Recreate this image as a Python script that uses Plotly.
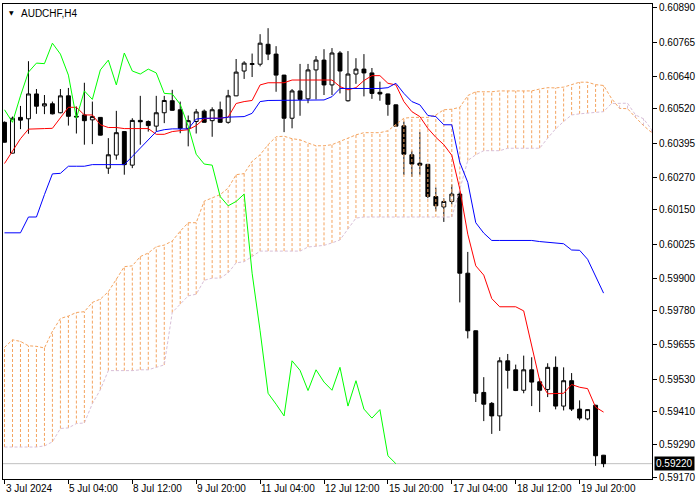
import plotly.graph_objects as go

# ---------------- data (AUDCHF H4) ----------------
bar_index = list(range(76))

open_ = [0.60471, 0.60358, 0.60489, 0.60484, 0.60575, 0.60531, 0.60539, 0.60506, 0.60568, 0.60493,
         0.60498, 0.60480, 0.60489, 0.60303, 0.60351, 0.60437, 0.60314, 0.60478, 0.60474, 0.60457,
         0.60506, 0.60550, 0.60517, 0.60449, 0.60474, 0.60512, 0.60477, 0.60517, 0.60471, 0.60568,
         0.60659, 0.60683, 0.60684, 0.60757, 0.60721, 0.60644, 0.60486, 0.60586, 0.60557, 0.60663,
         0.60699, 0.60608, 0.60725, 0.60550, 0.60648, 0.60666, 0.60652, 0.60581, 0.60575, 0.60535,
         0.60458, 0.60352, 0.60321, 0.60317, 0.60199, 0.60161, 0.60181, 0.60208, 0.59918, 0.59707,
         0.59481, 0.59441, 0.59395, 0.59597, 0.59564, 0.59489, 0.59564, 0.59520, 0.59492, 0.59573,
         0.59431, 0.59524, 0.59420, 0.59384, 0.59434, 0.59251]

high = [0.60474, 0.60492, 0.60531, 0.60695, 0.60593, 0.60571, 0.60547, 0.60593, 0.60597, 0.60529,
        0.60616, 0.60547, 0.60490, 0.60413, 0.60513, 0.60438, 0.60486, 0.60568, 0.60478, 0.60568,
        0.60568, 0.60590, 0.60547, 0.60496, 0.60520, 0.60518, 0.60526, 0.60547, 0.60590, 0.60703,
        0.60695, 0.60723, 0.60794, 0.60816, 0.60750, 0.60645, 0.60593, 0.60685, 0.60685, 0.60714,
        0.60739, 0.60743, 0.60732, 0.60732, 0.60706, 0.60721, 0.60670, 0.60620, 0.60576, 0.60536,
        0.60474, 0.60367, 0.60435, 0.60318, 0.60232, 0.60192, 0.60243, 0.60218, 0.59996, 0.59708,
        0.59537, 0.59446, 0.59610, 0.59622, 0.59583, 0.59616, 0.59610, 0.59532, 0.59588, 0.59613,
        0.59573, 0.59552, 0.59452, 0.59419, 0.59436, 0.59252]

low = [0.60397, 0.60357, 0.60446, 0.60429, 0.60502, 0.60501, 0.60500, 0.60504, 0.60459, 0.60430,
       0.60389, 0.60391, 0.60423, 0.60282, 0.60334, 0.60279, 0.60303, 0.60389, 0.60437, 0.60437,
       0.60468, 0.60514, 0.60431, 0.60383, 0.60430, 0.60470, 0.60418, 0.60470, 0.60466, 0.60567,
       0.60630, 0.60637, 0.60676, 0.60699, 0.60583, 0.60435, 0.60449, 0.60495, 0.60541, 0.60555,
       0.60571, 0.60571, 0.60577, 0.60547, 0.60612, 0.60566, 0.60557, 0.60550, 0.60495, 0.60456,
       0.60278, 0.60271, 0.60278, 0.60193, 0.60145, 0.60106, 0.60170, 0.59811, 0.59679, 0.59446,
       0.59376, 0.59329, 0.59340, 0.59495, 0.59486, 0.59478, 0.59431, 0.59409, 0.59464, 0.59419,
       0.59415, 0.59413, 0.59379, 0.59379, 0.59212, 0.59207]

close = [0.60398, 0.60486, 0.60479, 0.60575, 0.60530, 0.60539, 0.60502, 0.60568, 0.60493, 0.60491,
         0.60477, 0.60492, 0.60424, 0.60352, 0.60433, 0.60316, 0.60478, 0.60473, 0.60459, 0.60506,
         0.60551, 0.60515, 0.60449, 0.60477, 0.60509, 0.60471, 0.60517, 0.60471, 0.60568, 0.60655,
         0.60688, 0.60686, 0.60761, 0.60721, 0.60644, 0.60486, 0.60586, 0.60555, 0.60663, 0.60699,
         0.60608, 0.60725, 0.60659, 0.60648, 0.60666, 0.60652, 0.60577, 0.60575, 0.60537, 0.60457,
         0.60354, 0.60318, 0.60314, 0.60199, 0.60165, 0.60181, 0.60208, 0.59918, 0.59707, 0.59478,
         0.59438, 0.59395, 0.59597, 0.59562, 0.59488, 0.59564, 0.59519, 0.59489, 0.59573, 0.59431,
         0.59524, 0.59420, 0.59387, 0.59418, 0.59249, 0.59220]

tenkan = [0.60320, 0.60364, 0.60411, 0.60446, 0.60448, 0.60448, 0.60449, 0.60486, 0.60526, 0.60526,
          0.60498, 0.60498, 0.60462, 0.60452, 0.60452, 0.60448, 0.60448, 0.60448, 0.60448, 0.60427,
          0.60427, 0.60437, 0.60440, 0.60444, 0.60459, 0.60484, 0.60486, 0.60486, 0.60490, 0.60540,
          0.60547, 0.60551, 0.60608, 0.60616, 0.60616, 0.60616, 0.60626, 0.60626, 0.60626, 0.60626,
          0.60626, 0.60626, 0.60602, 0.60590, 0.60598, 0.60624, 0.60642, 0.60642, 0.60614, 0.60608,
          0.60547, 0.60510, 0.60492, 0.60449, 0.60416, 0.60389, 0.60350, 0.60226, 0.60061, 0.59945,
          0.59911, 0.59825, 0.59795, 0.59795, 0.59795, 0.59780, 0.59653, 0.59525, 0.59476, 0.59476,
          0.59478, 0.59510, 0.59500, 0.59495, 0.59427, 0.59409]

kijun = [0.60066, 0.60066, 0.60066, 0.60124, 0.60124, 0.60206, 0.60282, 0.60284, 0.60310, 0.60310,
         0.60310, 0.60316, 0.60316, 0.60316, 0.60316, 0.60316, 0.60346, 0.60376, 0.60407, 0.60437,
         0.60444, 0.60447, 0.60447, 0.60447, 0.60483, 0.60486, 0.60486, 0.60486, 0.60490, 0.60491,
         0.60492, 0.60504, 0.60547, 0.60551, 0.60551, 0.60551, 0.60551, 0.60551, 0.60551, 0.60551,
         0.60553, 0.60565, 0.60595, 0.60595, 0.60595, 0.60595, 0.60595, 0.60595, 0.60598, 0.60614,
         0.60577, 0.60547, 0.60535, 0.60496, 0.60492, 0.60462, 0.60462, 0.60324, 0.60251, 0.60103,
         0.60065, 0.60038, 0.60038, 0.60038, 0.60038, 0.60038, 0.60038, 0.60034, 0.60032, 0.60030,
         0.60026, 0.60003, 0.60002, 0.59969, 0.59905, 0.59845]

chikou = [0.60517, 0.60471, 0.60568, 0.60655, 0.60688, 0.60686, 0.60761, 0.60721, 0.60644, 0.60486,
          0.60586, 0.60555, 0.60663, 0.60699, 0.60608, 0.60725, 0.60659, 0.60648, 0.60666, 0.60652,
          0.60577, 0.60575, 0.60537, 0.60457, 0.60354, 0.60318, 0.60314, 0.60199, 0.60165, 0.60181,
          0.60208, 0.59918, 0.59707, 0.59478, 0.59438, 0.59395, 0.59597, 0.59562, 0.59488, 0.59564,
          0.59519, 0.59489, 0.59573, 0.59431, 0.59524, 0.59420, 0.59387, 0.59418, 0.59249, 0.59220]

cloud_index = list(range(82))

senkou_a = [0.59646, 0.59674, 0.59668, 0.59652, 0.59650, 0.59644, 0.59705, 0.59752, 0.59761, 0.59774,
            0.59777, 0.59811, 0.59823, 0.59850, 0.59896, 0.59942, 0.59945, 0.59979, 0.59992, 0.60015,
            0.60021, 0.60036, 0.60072, 0.60103, 0.60103, 0.60182, 0.60194, 0.60206, 0.60230, 0.60279,
            0.60283, 0.60328, 0.60352, 0.60389, 0.60418, 0.60420, 0.60411, 0.60407, 0.60395, 0.60385,
            0.60385, 0.60389, 0.60401, 0.60413, 0.60425, 0.60433, 0.60433, 0.60433, 0.60440, 0.60462,
            0.60486, 0.60489, 0.60489, 0.60489, 0.60498, 0.60517, 0.60519, 0.60526, 0.60569, 0.60583,
            0.60583, 0.60583, 0.60586, 0.60586, 0.60586, 0.60586, 0.60586, 0.60593, 0.60598, 0.60597,
            0.60600, 0.60609, 0.60618, 0.60618, 0.60609, 0.60606, 0.60558, 0.60522, 0.60521, 0.60489,
            0.60459, 0.60434]

senkou_b = [0.59281, 0.59281, 0.59281, 0.59281, 0.59281, 0.59285, 0.59300, 0.59349, 0.59351, 0.59367,
            0.59369, 0.59440, 0.59491, 0.59561, 0.59561, 0.59561, 0.59561, 0.59564, 0.59564, 0.59573,
            0.59582, 0.59774, 0.59805, 0.59835, 0.59841, 0.59892, 0.59900, 0.59900, 0.59919, 0.59956,
            0.59960, 0.59978, 0.59999, 0.59999, 0.59999, 0.59999, 0.59999, 0.59999, 0.60014, 0.60016,
            0.60020, 0.60029, 0.60040, 0.60080, 0.60120, 0.60124, 0.60124, 0.60124, 0.60124, 0.60124,
            0.60124, 0.60124, 0.60124, 0.60124, 0.60124, 0.60124, 0.60124, 0.60225, 0.60331, 0.60352,
            0.60367, 0.60367, 0.60367, 0.60376, 0.60376, 0.60376, 0.60376, 0.60376, 0.60413, 0.60447,
            0.60474, 0.60498, 0.60502, 0.60505, 0.60509, 0.60510, 0.60540, 0.60541, 0.60541, 0.60498,
            0.60484, 0.60445]

time_tick_bars = [0, 8, 16, 24, 32, 40, 48, 56, 64, 72]
time_tick_labels = ["3 Jul 2024", "5 Jul 04:00", "8 Jul 12:00", "9 Jul 20:00", "11 Jul 04:00",
                    "12 Jul 12:00", "15 Jul 20:00", "17 Jul 04:00", "18 Jul 12:00", "19 Jul 20:00"]

price_ticks = [0.60890, 0.60765, 0.60640, 0.60520, 0.60395, 0.60270, 0.60150, 0.60025,
               0.59900, 0.59780, 0.59655, 0.59530, 0.59410, 0.59290, 0.59170]

symbol_title = "AUDCHF,H4"
bid_price = 0.59220

# ---------------- figure ----------------
FONT = "Liberation Sans, Arial, sans-serif"
SANDY = "#F4A460"
THISTLE = "#D8BFD8"

fig = go.Figure()

fig.add_trace(go.Candlestick(
    x=bar_index, open=open_, high=high, low=low, close=close,
    increasing=dict(line=dict(color="black", width=1), fillcolor="white"),
    decreasing=dict(line=dict(color="black", width=1), fillcolor="black"),
    whiskerwidth=0, hoverinfo="skip", showlegend=False,
))

# Kumo hatching: vertical dotted segments between Senkou A and B
hx_a, hy_a, hx_b, hy_b = [], [], [], []
for i, a, b in zip(cloud_index, senkou_a, senkou_b):
    if a >= b:
        hx_a += [i, i, None]
        hy_a += [b, a, None]
    else:
        hx_b += [i, i, None]
        hy_b += [a, b, None]

fig.add_trace(go.Scatter(x=hx_a, y=hy_a, mode="lines",
                         line=dict(color=SANDY, width=1, dash="3px,2px"),
                         hoverinfo="skip", showlegend=False, connectgaps=False))
fig.add_trace(go.Scatter(x=hx_b, y=hy_b, mode="lines",
                         line=dict(color=THISTLE, width=1, dash="3px,2px"),
                         hoverinfo="skip", showlegend=False, connectgaps=False))

fig.add_trace(go.Scatter(x=cloud_index, y=senkou_b, mode="lines",
                         line=dict(color=THISTLE, width=1, dash="3px,2px"),
                         hoverinfo="skip", showlegend=False))
fig.add_trace(go.Scatter(x=cloud_index, y=senkou_a, mode="lines",
                         line=dict(color=SANDY, width=1, dash="3px,2px"),
                         hoverinfo="skip", showlegend=False))

fig.add_trace(go.Scatter(x=bar_index, y=tenkan, mode="lines",
                         line=dict(color="#FF0000", width=1),
                         hoverinfo="skip", showlegend=False))
fig.add_trace(go.Scatter(x=bar_index, y=kijun, mode="lines",
                         line=dict(color="#0000FF", width=1),
                         hoverinfo="skip", showlegend=False))
fig.add_trace(go.Scatter(x=bar_index[:len(chikou)], y=chikou, mode="lines",
                         line=dict(color="#00FF00", width=1),
                         hoverinfo="skip", showlegend=False))

# bid line
fig.add_shape(type="line", xref="paper", x0=0, x1=1, yref="y", y0=bid_price, y1=bid_price,
              line=dict(color="#C0C0C0", width=1), layer="below")

annotations = []
for b, t in zip(time_tick_bars, time_tick_labels):
    annotations.append(dict(x=b, xref="x", y=0, yref="paper", text=t, showarrow=False,
                            xanchor="left", yanchor="top", xshift=-1, yshift=-2,
                            font=dict(family=FONT, size=10, color="black")))
annotations.append(dict(x=1, xref="paper", y=bid_price, yref="y", text=f"{bid_price:.5f}",
                        showarrow=False, xanchor="left", yanchor="middle", xshift=2,
                        bgcolor="black", borderpad=1,
                        font=dict(family=FONT, size=10, color="white")))
annotations.append(dict(x=0, xref="paper", y=1, yref="paper", text="\u25BC", showarrow=False,
                        xanchor="left", yanchor="top", xshift=4, yshift=-3,
                        font=dict(family="DejaVu Sans", size=6, color="black")))
annotations.append(dict(x=0, xref="paper", y=1, yref="paper", text=symbol_title, showarrow=False,
                        xanchor="left", yanchor="top", xshift=16, yshift=-2,
                        font=dict(family=FONT, size=10, color="black")))

fig.update_layout(
    width=700, height=500,
    margin=dict(l=2, r=48, t=2, b=21),
    paper_bgcolor="white", plot_bgcolor="white",
    showlegend=False,
    boxgap=0.3,
    annotations=annotations,
    font=dict(family=FONT, size=10, color="black"),
    xaxis=dict(range=[-0.1875, 81.0625], showgrid=False, zeroline=False,
               showline=True, mirror=True, linecolor="black", linewidth=1,
               ticks="outside", ticklen=4, tickcolor="black", tickwidth=1,
               tickvals=time_tick_bars, showticklabels=False,
               rangeslider=dict(visible=False), fixedrange=True),
    yaxis=dict(range=[0.591638, 0.609046], side="right", showgrid=False, zeroline=False,
               showline=True, mirror=True, linecolor="black", linewidth=1,
               ticks="outside", ticklen=4, tickcolor="black", tickwidth=1,
               tickmode="array",
               tickvals=price_ticks, ticktext=[f"{v:.5f}" for v in price_ticks],
               tickfont=dict(family=FONT, size=10, color="black"), fixedrange=True),
)

fig.write_html("out.html", config={"displayModeBar": False},
               post_script="document.body.style.margin='0px';document.body.style.overflow='hidden';")
